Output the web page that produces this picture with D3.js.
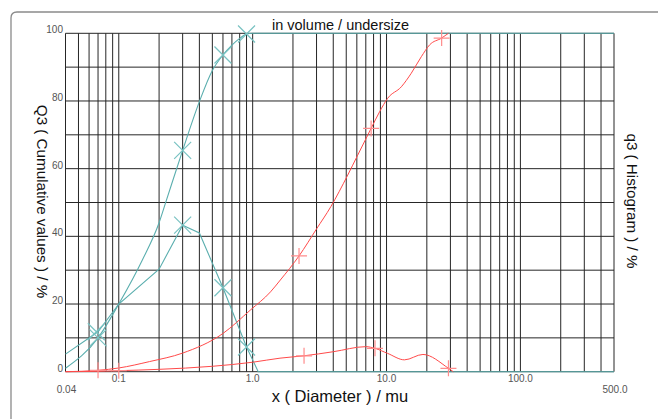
<!DOCTYPE html>
<html><head><meta charset="utf-8">
<script src="https://cdn.jsdelivr.net/npm/d3@7"></script>
<style>
body{margin:0;background:#fff;}
svg{display:block;font-family:"Liberation Sans",Arial,sans-serif;}
</style>
</head><body>
<svg id="c" width="658" height="419"></svg>
<script>
// ---- data ----
const title = "in volume / undersize";
const xTitle = "x ( Diameter ) / mu";
const yLeftTitle = "Q3 ( Cumulative values ) / %";
const yRightTitle = "q3 ( Histogram ) / %";

const xTickValues = [0.1, 1, 10, 100];
const xTickLabels = ["0.1", "1.0", "10.0", "100.0"];
const xEndValues = [0.04, 500];
const xEndLabels = ["0.04", "500.0"];
const yTickValues = [0, 20, 40, 60, 80, 100];
const yTickLabels = ["0", "20", "40", "60", "80", "100"];
const yGridValues = [0, 10, 20, 30, 40, 50, 60, 70, 80, 90, 100];
const xGridValues = [0.04,0.05,0.06,0.07,0.08,0.09,
  0.1,0.2,0.3,0.4,0.5,0.6,0.7,0.8,0.9,
  1,2,3,4,5,6,7,8,9,
  10,20,30,40,50,60,70,80,90,
  100,200,300,400,500];

// sample 1 (teal)
const tealCumX = [0.04, 0.07, 0.1, 0.15, 0.2, 0.227, 0.3, 0.4, 0.5, 0.6, 0.7, 0.8, 0.9, 1.0, 500];
const tealCumY = [1.0, 10, 20, 33, 44, 50.7, 65.4, 79.8, 89, 93.6, 96.5, 98.5, 99.8, 100, 100];
const tealHistX = [0.04, 0.07, 0.1, 0.2, 0.3, 0.4, 0.6, 0.9, 1.1, 500];
const tealHistY = [5.2, 11.8, 20, 30.3, 43.3, 41, 24.8, 7.3, 0, 0];
const tealCumMarkX = [0.07, 0.3, 0.6, 0.9];
const tealCumMarkY = [10, 65.4, 93.6, 99.8];
const tealHistMarkX = [0.068, 0.3, 0.6, 0.9];
const tealHistMarkY = [11.8, 43.3, 24.8, 7.3];

// sample 2 (red)
const redCumX = [0.04, 0.07, 0.1, 0.17, 0.3, 0.6, 0.96, 1.36, 1.61, 2.22, 3.0, 3.84, 5.13, 6.09, 7.67, 8.87, 10.2, 12.9, 15.3, 18.2, 21, 25.8, 29];
const redCumY = [0, 0.4, 1.1, 3.0, 5.5, 11.3, 18.2, 23.6, 27.1, 34.2, 42.2, 48.8, 58.1, 64, 71.9, 76.8, 80.8, 84.2, 88.2, 93.1, 96.6, 98.6, 100];
const redHistX = [0.04, 0.07, 0.1, 0.2, 0.5, 1.0, 1.6, 2.42, 4.0, 7.0, 8.2, 10.2, 13.6, 18.7, 29, 31.5];
const redHistY = [0, 0.1, 0.3, 0.7, 1.6, 2.8, 4.0, 4.7, 5.9, 7.4, 6.9, 5.4, 3.5, 5.1, 1.0, 0];
const redCumMarkX = [0.07, 2.22, 7.67, 25.8];
const redCumMarkY = [0.4, 34.2, 71.9, 98.6];
const redHistMarkX = [0.1, 2.42, 8.2, 29];
const redHistMarkY = [0.3, 4.7, 6.9, 1.0];

// ---- drawing ----
const svg = d3.select("#c");
const x = d3.scaleLog().domain([0.04, 500]).range([65.5, 614]);
const y = d3.scaleLinear().domain([0, 100]).range([371.7, 33.3]);

// frame
svg.append("path")
  .attr("d", "M11,430 V18 Q11,12 17,12 H660")
  .attr("fill", "none").attr("stroke", "#8a8a8a").attr("stroke-width", 1.3);

// grid
const grid = svg.append("g");
grid.selectAll("line.v").data(xGridValues).join("line")
  .attr("x1", d => x(d)).attr("x2", d => x(d))
  .attr("y1", y(100)).attr("y2", y(0))
  .attr("stroke", "#262626").attr("stroke-width", 1);
grid.selectAll("line.h").data(yGridValues).join("line")
  .attr("y1", d => y(d)).attr("y2", d => y(d))
  .attr("x1", x(0.04)).attr("x2", x(500))
  .attr("stroke", "#262626").attr("stroke-width", 1);

const zip = (a, b) => a.map((v, i) => [v, b[i]]);
const smooth = d3.line().x(d => x(d[0])).y(d => y(d[1])).curve(d3.curveMonotoneX);
const straight = d3.line().x(d => x(d[0])).y(d => y(d[1]));

const teal = "#5aaeae", tealMark = "#78c2c2";
const red = "#ff4a4a", redMark = "#ff8c8c";

svg.append("path").attr("d", straight(zip(tealHistX, tealHistY)))
  .attr("fill", "none").attr("stroke", teal).attr("stroke-width", 1.1);
svg.append("path").attr("d", smooth(zip(tealCumX, tealCumY)))
  .attr("fill", "none").attr("stroke", teal).attr("stroke-width", 1.1);
svg.append("path").attr("d", smooth(zip(redHistX, redHistY)))
  .attr("fill", "none").attr("stroke", red).attr("stroke-width", 1);
svg.append("path").attr("d", smooth(zip(redCumX, redCumY)))
  .attr("fill", "none").attr("stroke", red).attr("stroke-width", 1);

const xMark = "M-8.5,-8.5L8.5,8.5M-8.5,8.5L8.5,-8.5";
const pMark = "M-8,0H8M0,-8V8";
function marks(xs, ys, shape, col) {
  svg.append("g").selectAll("path").data(zip(xs, ys)).join("path")
    .attr("transform", d => `translate(${x(d[0])},${y(d[1])})`)
    .attr("d", shape).attr("fill", "none").attr("stroke", col).attr("stroke-width", 1.2);
}
marks(tealCumMarkX, tealCumMarkY, xMark, tealMark);
marks(tealHistMarkX, tealHistMarkY, xMark, tealMark);
marks(redCumMarkX, redCumMarkY, pMark, redMark);
marks(redHistMarkX, redHistMarkY, pMark, redMark);

// tick labels
svg.append("g").selectAll("text").data(zip(yTickValues, yTickLabels)).join("text")
  .attr("x", 63).attr("y", d => y(d[0]))
  .attr("text-anchor", "end").attr("font-size", 10).attr("fill", "#555")
  .text(d => d[1]);
svg.append("g").selectAll("text").data(zip(xTickValues, xTickLabels)).join("text")
  .attr("x", d => x(d[0])).attr("y", 382)
  .attr("text-anchor", "middle").attr("font-size", 10).attr("fill", "#555")
  .text(d => d[1]);
svg.append("g").selectAll("text").data(zip(xEndValues, xEndLabels)).join("text")
  .attr("x", d => x(d[0]) + 1).attr("y", 392.5)
  .attr("text-anchor", "middle").attr("font-size", 10).attr("fill", "#555")
  .text(d => d[1]);

// titles
svg.append("text").attr("x", 340.5).attr("y", 29.5).attr("text-anchor", "middle")
  .attr("font-size", 14.5).attr("fill", "#111").text(title);
svg.append("text").attr("x", 340).attr("y", 401.5).attr("text-anchor", "middle")
  .attr("font-size", 16.5).attr("fill", "#111").text(xTitle);
svg.append("text").attr("transform", "translate(37,201.5) rotate(90)").attr("text-anchor", "middle")
  .attr("font-size", 15.2).attr("fill", "#111").text(yLeftTitle);
svg.append("text").attr("transform", "translate(626.5,201) rotate(90)").attr("text-anchor", "middle")
  .attr("font-size", 15.2).attr("fill", "#111").text(yRightTitle);
</script>
</body></html>
